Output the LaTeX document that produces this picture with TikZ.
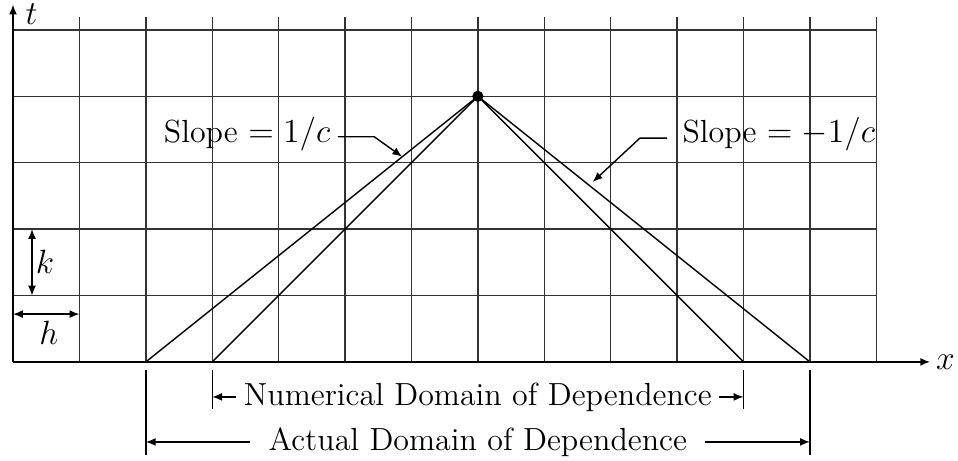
\documentclass[tikz,border=0pt]{standalone}
\usetikzlibrary{arrows.meta}
\begin{document}
\begin{tikzpicture}[x=1cm,y=1cm,
  every node/.style={font=\fontsize{13.7}{16.5}\selectfont},
  gridline/.style={line width=0.6pt, black!80},
  thin line/.style={line width=0.6pt, black},
  tipend/.style={line width=0.6pt, -{Latex[length=4.2pt,width=3.4pt]}},
  bothends/.style={line width=0.6pt, {Latex[length=4.2pt,width=3.4pt]}-{Latex[length=4.2pt,width=3.4pt]}}]
\useasboundingbox (-0.196,-1.49) rectangle (14.23,5.45);

% grid
\foreach \i in {1,...,13} \draw[gridline] (\i,0) -- (\i,5.2);
\foreach \j in {1,...,5} \draw[gridline] (0,\j) -- (13,\j);

% axes
\coordinate (O) at (0,0);
\coordinate (tend) at (0,5.38);
\coordinate (xend) at (13.81,0);
\draw[tipend] (O) -- (tend);
\draw[tipend] (O) -- (xend);
\node (tlab) at (0.28,5.24) {$t$};
\node (xlab) at (14.04,0) {$x$};

% k and h
\coordinate (k1) at (0.286,1);
\coordinate (k2) at (0.286,2);
\draw[bothends] (k1) -- (k2);
\node (klab) at (0.48,1.5) {$k$};
\coordinate (h1) at (0,0.72);
\coordinate (h2) at (1,0.72);
\draw[bothends] (h1) -- (h2);
\node (hlab) at (0.54,0.44) {$h$};

% peak and characteristic lines
\node[circle, fill, inner sep=0pt, minimum size=4.8pt] (peak) at (7,4) {};
\coordinate (b2) at (2,0);
\coordinate (b3) at (3,0);
\coordinate (b11) at (11,0);
\coordinate (b12) at (12,0);
\draw[thin line] (peak.center) -- (b2);
\draw[thin line] (peak.center) -- (b3);
\draw[thin line] (peak.center) -- (b11);
\draw[thin line] (peak.center) -- (b12);

% slope labels
\node[anchor=base east, inner sep=3pt] (sl) at (4.89,3.31) {Slope $= 1/c$};
\coordinate (sls) at (4.89,3.39);
\coordinate (slb) at (5.44,3.39);
\coordinate (slt) at (5.86,3.09);
\draw[tipend] (sls) -- (slb) -- (slt);
\node[anchor=base west, inner sep=3pt] (sr) at (9.97,3.31) {Slope $= -1/c$};
\coordinate (srs) at (9.85,3.37);
\coordinate (srb) at (9.44,3.37);
\coordinate (srt) at (8.73,2.71);
\draw[tipend] (srs) -- (srb) -- (srt);

% domain ticks
\coordinate (t2a) at (2,-0.12);  \coordinate (t2b) at (2,-1.40);
\coordinate (t3a) at (3,-0.12);  \coordinate (t3b) at (3,-0.71);
\coordinate (t11a) at (11,-0.12); \coordinate (t11b) at (11,-0.71);
\coordinate (t12a) at (12,-0.12); \coordinate (t12b) at (12,-1.40);
\draw[thin line] (t2a) -- (t2b);
\draw[thin line] (t3a) -- (t3b);
\draw[thin line] (t11a) -- (t11b);
\draw[thin line] (t12a) -- (t12b);

\node[inner xsep=3pt] (num) at (7,-0.527) {Numerical Domain of Dependence};
\draw[tipend] (num.west) -- (num.west -| t3a);
\draw[tipend] (num.east) -- (num.east -| t11a);

\node[inner xsep=7.7pt] (act) at (7,-1.205) {Actual Domain of Dependence};
\draw[tipend] (act.west) -- (act.west -| t2a);
\draw[tipend] (act.east) -- (act.east -| t12a);
\end{tikzpicture}
\end{document}
